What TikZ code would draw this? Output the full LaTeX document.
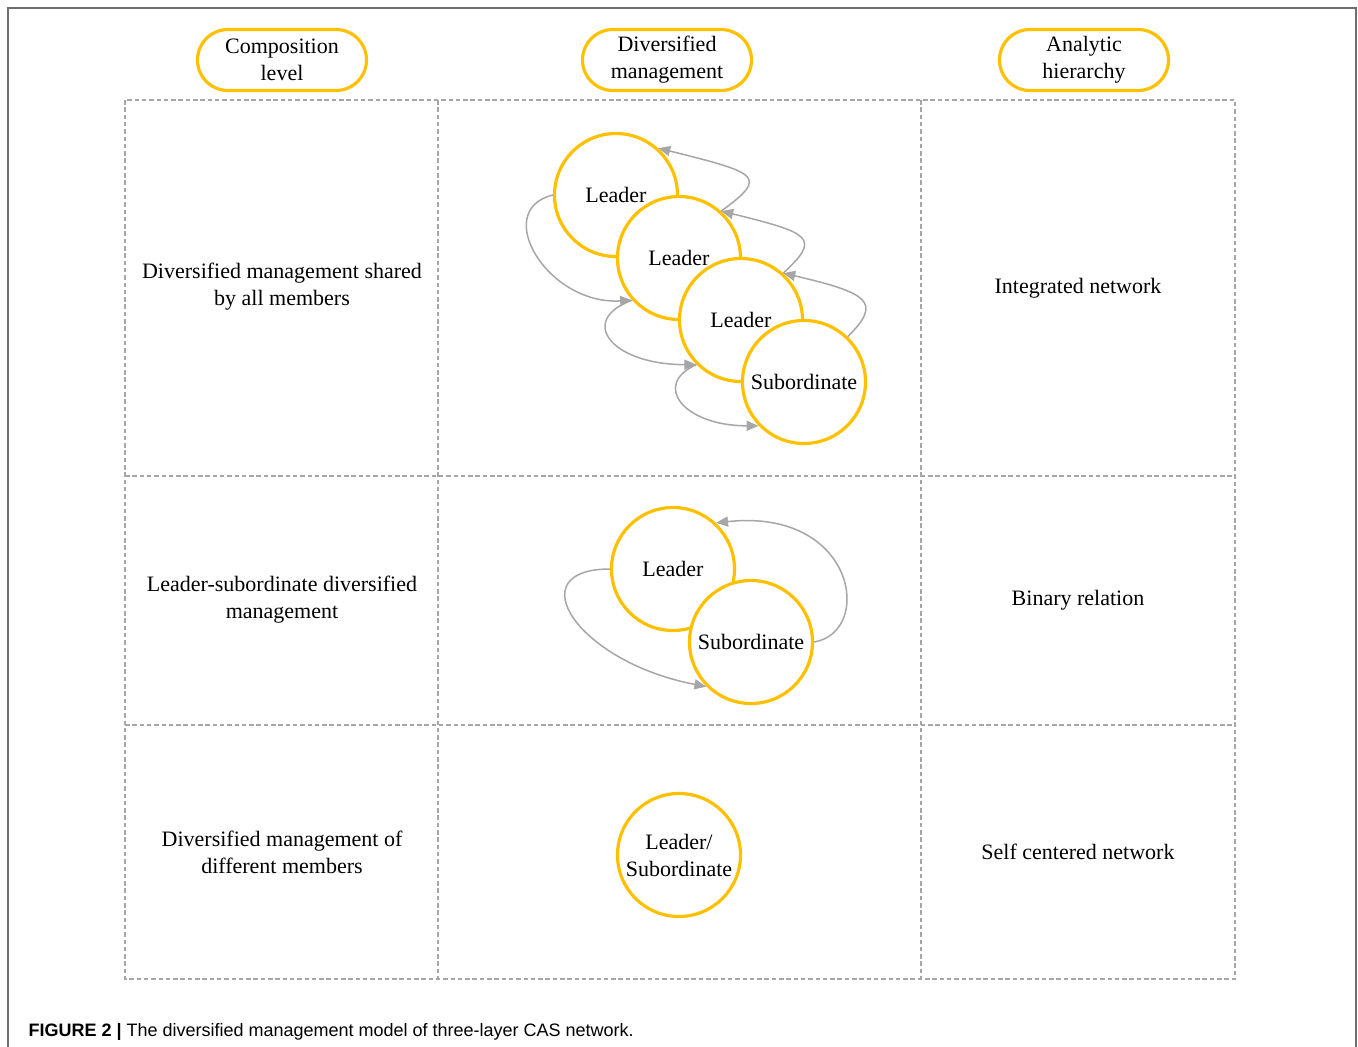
\documentclass[tikz,border=0pt]{standalone}
\usepackage{fontspec}
\setmainfont{Liberation Serif}
\newfontfamily\captionfont{Liberation Sans}
\usetikzlibrary{arrows.meta,shapes.misc,positioning}
\definecolor{gold}{HTML}{FFC000}
\definecolor{linegray}{HTML}{A6A6A6}
\definecolor{framegray}{HTML}{6E6E6E}

\begin{document}
\begin{tikzpicture}[x=1pt, y=-1pt,
    every node/.style={font=\fontsize{22}{27}\selectfont, align=center},
    header/.style={rounded rectangle, draw=gold, line width=3.2pt, minimum width=169pt, minimum height=61pt, inner sep=0pt},
    member/.style={circle, draw=gold, line width=3.2pt, fill=white, minimum size=123pt, inner sep=0pt},
    link/.style={draw=linegray, line width=1.5pt, -{Triangle[length=12pt,width=10pt]}},
    cell/.style={draw=linegray, line width=2.8pt, dash pattern=on 4.5pt off 2.8pt}]
\useasboundingbox (0,0) rectangle (1358,1047);

% outer frame and caption
\draw [framegray, line width=1.2pt] (8,1047) |- (1356,8) -- (1356,1047);
\node (caption) [anchor=base west, font=\captionfont\fontsize{18}{20}\selectfont] at (25,1036)
    {\textbf{FIGURE 2 |} The diversified management model of three-layer CAS network.};

% column headers
\node (hcomp) [header] at (282,60) {Composition\\level};
\node (hdiv) [header] at (667,60) {Diversified\\management};
\node (hana) [header] at (1084,60) {Analytic\\hierarchy};

% dashed grid
\draw [cell] (125,100) rectangle (1235,979);
\foreach \x in {438,921}
    \draw [cell] (\x,100) -- (\x,979);
\foreach \y in {476,725}
    \draw [cell] (125,\y) -- (1235,\y);

% row texts
\node (comp1) at (282,287) {Diversified management shared\\by all members};
\node (comp2) at (282,600) {Leader-subordinate diversified\\management};
\node (comp3) at (282,852) {Diversified management of\\different members};
\node (ana1) at (1078,288) {Integrated network};
\node (ana2) at (1078,600) {Binary relation};
\node (ana3) at (1078,852) {Self centered network};

% integrated network
\node (lead1) [member] at (616,195) {Leader};
\node (lead2) [member] at (679,258) {Leader};
\node (lead3) [member] at (741,320) {Leader};
\node (sub1) [member] at (804,382) {Subordinate};

\draw [link] (lead1.180) .. controls +(-62,15) and +(-85,5) .. (lead2.222);
\draw [link] (lead2.222) .. controls +(-55,20) and +(-85,0) .. (lead3.225);
\draw [link] (lead3.225) .. controls +(-45,20) and +(-75,0) .. (sub1.224);
\draw [link] (sub1.46) .. controls +(35,-35) and +(85,20) .. (lead3.48);
\draw [link] (lead3.48) .. controls +(38,-35) and +(90,22) .. (lead2.48);
\draw [link] (lead2.48) .. controls +(48,-35) and +(100,25) .. (lead1.48);

% binary relation
\node (lead4) [member] at (673,569) {Leader};
\node (sub2) [member] at (751,642) {Subordinate};

\draw [link] (lead4.180) .. controls +(-92,0) and +(-130,-25) .. (sub2.225);
\draw [link] (sub2.0) .. controls +(60,-10) and +(140,-15) .. (lead4.47);

% self centered network
\node (self) [member] at (679,855) {Leader/\\Subordinate};
\end{tikzpicture}
\end{document}
